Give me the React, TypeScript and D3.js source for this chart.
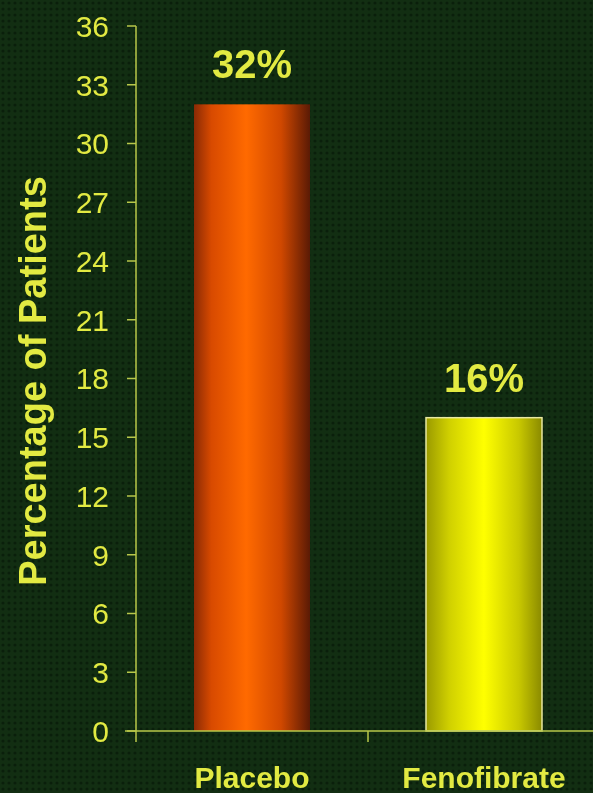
import React from "react";
import * as d3 from "d3";

const categories = ["Placebo", "Fenofibrate"];
const values = [32, 16];
const valueLabels = ["32%", "16%"];
const yTicks = [0, 3, 6, 9, 12, 15, 18, 21, 24, 27, 30, 33, 36];

const W = 593;
const H = 793;

export default function App() {
  const y = d3.scaleLinear().domain([0, 36]).range([731, 26]);
  const x = d3.scaleBand().domain(categories).range([136, 600]).paddingInner(0.5).paddingOuter(0.25);
  const axisX = 136;
  const textColor = "#e2ea42";
  const axisColor = "#b8c84a";
  const font = "Liberation Sans, Arial, sans-serif";
  const mid = (x(categories[0])! + x.bandwidth() + x(categories[1])!) / 2;
  return (
    <svg width={W} height={H} style={{ position: "fixed", left: 0, top: 0 }} fontFamily={font}>
      <defs>
        <pattern id="dots" width="6" height="6" patternUnits="userSpaceOnUse">
          <rect width="6" height="6" fill="#122e12" />
          <circle cx="3" cy="3" r="1.6" fill="#0a1f0b" />
        </pattern>
        <linearGradient id="gOrange" x1="0" x2="1" y1="0" y2="0">
          <stop offset="0" stopColor="#8a2a05" />
          <stop offset="0.15" stopColor="#d84a00" />
          <stop offset="0.45" stopColor="#ff6a00" />
          <stop offset="0.75" stopColor="#d04800" />
          <stop offset="1" stopColor="#5a1a05" />
        </linearGradient>
        <linearGradient id="gYellow" x1="0" x2="1" y1="0" y2="0">
          <stop offset="0" stopColor="#9a9a00" />
          <stop offset="0.2" stopColor="#d0d000" />
          <stop offset="0.5" stopColor="#ffff00" />
          <stop offset="0.8" stopColor="#c8c800" />
          <stop offset="1" stopColor="#8a8a00" />
        </linearGradient>
      </defs>
      <rect width={W} height={H} fill="url(#dots)" />
      {categories.map((c, i) => (
        <rect
          key={c}
          x={x(c)}
          y={y(values[i])}
          width={x.bandwidth()}
          height={y(0) - y(values[i])}
          fill={i === 0 ? "url(#gOrange)" : "url(#gYellow)"}
          stroke={i === 0 ? "none" : "#e8e8a0"}
          strokeWidth={i === 0 ? 0 : 1.5}
        />
      ))}
      {/* y axis */}
      <line x1={axisX} x2={axisX} y1={y(36)} y2={742} stroke={axisColor} strokeWidth={1.5} />
      {yTicks.map((t) => (
        <g key={t}>
          <line x1={axisX - 9} x2={axisX} y1={y(t)} y2={y(t)} stroke={axisColor} strokeWidth={1.5} />
          <text x={109} y={y(t)} dy="0.36em" textAnchor="end" fill={textColor} fontSize={30}>
            {t}
          </text>
        </g>
      ))}
      {/* x axis */}
      <line x1={125} x2={W} y1={y(0)} y2={y(0)} stroke={axisColor} strokeWidth={1.5} />
      <line x1={mid} x2={mid} y1={y(0)} y2={742} stroke={axisColor} strokeWidth={1.5} />
      {categories.map((c, i) => (
        <g key={c}>
          <text x={x(c)! + x.bandwidth() / 2} y={788} textAnchor="middle" fill={textColor} fontSize={30} fontWeight="bold">
            {c}
          </text>
          <text x={x(c)! + x.bandwidth() / 2} y={y(values[i]) - 26} textAnchor="middle" fill={textColor} fontSize={40} fontWeight="bold">
            {valueLabels[i]}
          </text>
        </g>
      ))}
      <text
        transform={`translate(46, ${381}) rotate(-90)`}
        textAnchor="middle"
        fill={textColor}
        fontSize={38}
        fontWeight="bold"
      >
        Percentage of Patients
      </text>
    </svg>
  );
}
